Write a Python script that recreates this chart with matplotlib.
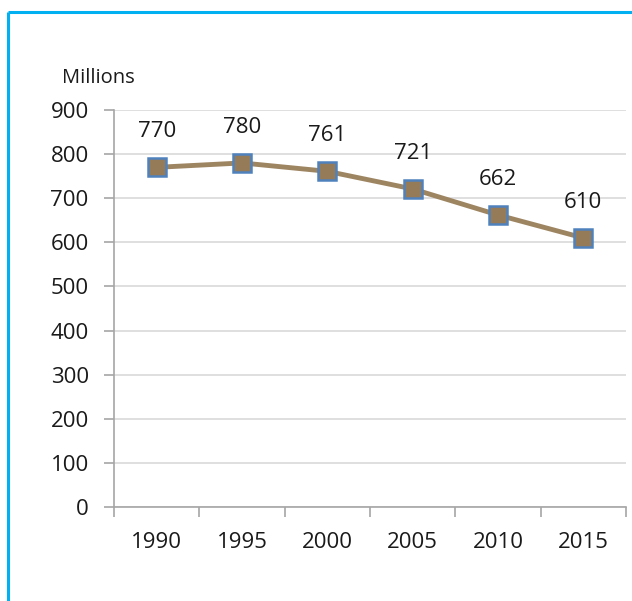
import matplotlib
matplotlib.use("Agg")
import matplotlib.pyplot as plt
from matplotlib.lines import Line2D

years = ["1990", "1995", "2000", "2005", "2010", "2015"]
values = [770, 780, 761, 721, 662, 610]
y_ticks = [0, 100, 200, 300, 400, 500, 600, 700, 800, 900]

W, H = 632, 601
fig = plt.figure(figsize=(W / 100, H / 100), dpi=100)
plt.rcParams["font.family"] = ["Open Sans", "DejaVu Sans"]

# frame around the chart (left and top edges only visible)
fig.add_artist(Line2D([8 / W, 8 / W], [0, 1 - 12 / H], transform=fig.transFigure,
                      color="#00B0F0", lw=2.2, solid_capstyle="butt"))
fig.add_artist(Line2D([8 / W, 1.0], [1 - 12 / H, 1 - 12 / H], transform=fig.transFigure,
                      color="#00B0F0", lw=2.2, solid_capstyle="butt"))

left, right, bottom, top = 114, 626, 507, 110
ax = fig.add_axes([left / W, 1 - bottom / H, (right - left) / W, (bottom - top) / H])

x = list(range(len(years)))
ax.plot(x, values, color="#9E8562", lw=3.5, zorder=3, solid_joinstyle="round")
ax.plot(x, values, ls="none", marker="s", ms=12.5, mfc="#957B57", mec="#4F81BD",
        mew=1.8, zorder=4)

for xi, v in zip(x, values):
    ax.annotate(str(v), (xi, v), xytext=(0, 25.5), textcoords="offset points",
                ha="center", va="center", fontsize=16, color="#1a1a1a")

ax.set_xlim(-0.5, len(years) - 0.5)
ax.set_ylim(0, 900)
ax.set_yticks(y_ticks)
ax.set_yticklabels([str(t) for t in y_ticks])
ax.set_xticks(x)
ax.set_xticklabels(years)
ax.set_xticks([i - 0.5 for i in range(len(years) + 1)], minor=True)

ax.grid(axis="y", color="#D9D9D9", lw=1.2)
ax.set_axisbelow(True)
for s in ["top", "right"]:
    ax.spines[s].set_visible(False)
for s in ["left", "bottom"]:
    ax.spines[s].set_color("#A6A6A6")
    ax.spines[s].set_linewidth(1.2)

ax.tick_params(axis="y", length=7.2, width=1.2, color="#A6A6A6", pad=11,
               labelsize=16, labelcolor="#1a1a1a")
ax.tick_params(axis="x", which="major", length=0, pad=18, labelsize=16,
               labelcolor="#1a1a1a")
ax.tick_params(axis="x", which="minor", length=7.2, width=1.2, color="#A6A6A6")

fig.text(62 / W, 1 - 78 / H, "Millions", ha="left", va="center", fontsize=14.5,
         color="#1a1a1a")

fig.savefig("out.png", dpi=100)
